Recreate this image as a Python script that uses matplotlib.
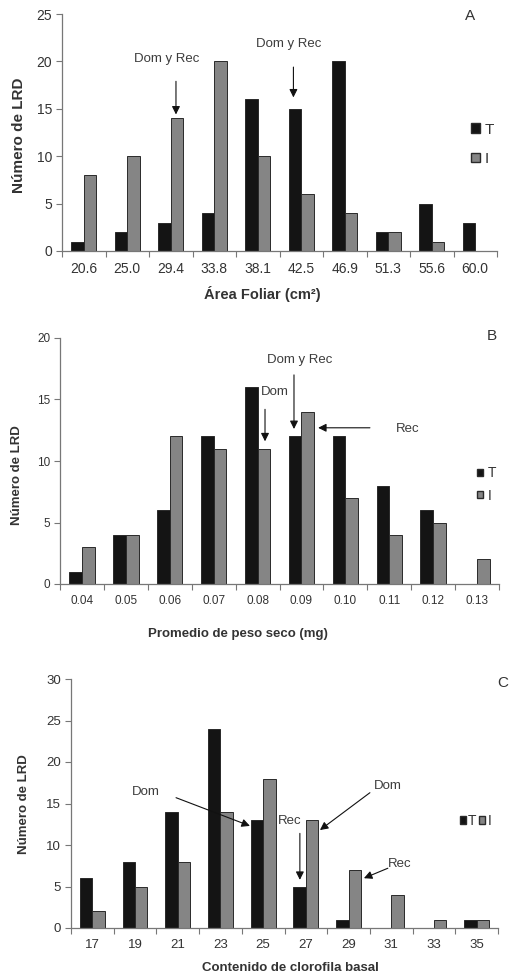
import matplotlib
matplotlib.use("Agg")
import matplotlib.pyplot as plt
import numpy as np
from matplotlib.patches import Patch

plt.rcParams['font.family'] = ['Liberation Sans', 'DejaVu Sans']

# Panel A - leaf area
area_labels = ['20.6', '25.0', '29.4', '33.8', '38.1', '42.5', '46.9', '51.3', '55.6', '60.0']
area_T = [1, 2, 3, 4, 16, 15, 20, 2, 5, 3]
area_I = [8, 10, 14, 20, 10, 6, 4, 2, 1, 0]

# Panel B - mean dry weight
peso_labels = ['0.04', '0.05', '0.06', '0.07', '0.08', '0.09', '0.10', '0.11', '0.12', '0.13']
peso_T = [1, 4, 6, 12, 16, 12, 12, 8, 6, 0]
peso_I = [3, 4, 12, 11, 11, 14, 7, 4, 5, 2]

# Panel C - basal chlorophyll
clor_labels = ['17', '19', '21', '23', '25', '27', '29', '31', '33', '35']
clor_T = [6, 8, 14, 24, 13, 5, 1, 0, 0, 1]
clor_I = [2, 5, 8, 14, 18, 13, 7, 4, 1, 1]

BLACK = '#141414'
GRAY = '#858585'
EDGE = '#2a2a2a'
TXT = '#333333'
SPINE = '#777777'

W, H = 510, 975
fig = plt.figure(figsize=(W / 100, H / 100), dpi=100)


def px_axes(left, right, top, bottom):
    return fig.add_axes([left / W, 1 - bottom / H, (right - left) / W, (bottom - top) / H])


def draw_panel(ax, labels, t, i, ymax, ystep, tick_fs):
    x = np.arange(len(labels))
    w = 0.29
    ax.bar(x - w / 2, t, w, color=BLACK, edgecolor=EDGE, linewidth=0.7)
    ax.bar(x + w / 2, i, w, color=GRAY, edgecolor=EDGE, linewidth=0.7)
    ax.set_xlim(-0.5, len(labels) - 0.5)
    ax.set_ylim(0, ymax)
    ax.set_yticks(np.arange(0, ymax + 1, ystep))
    ax.set_xticks(x)
    ax.set_xticklabels(labels)
    ax.set_xticks(np.arange(-0.5, len(labels), 1.0), minor=True)
    ax.tick_params(axis='x', which='major', length=0, pad=8, labelsize=tick_fs, labelcolor=TXT)
    ax.tick_params(axis='x', which='minor', length=4, width=0.8, color=SPINE, direction='out')
    ax.tick_params(axis='y', length=4, width=0.8, color=SPINE, direction='out', pad=3,
                   labelsize=tick_fs, labelcolor=TXT)
    for s in ['top', 'right']:
        ax.spines[s].set_visible(False)
    for s in ['left', 'bottom']:
        ax.spines[s].set_color(SPINE)
        ax.spines[s].set_linewidth(0.9)


def arrow(ax, text, txy, start, end, fs):
    ax.text(txy[0], txy[1], text, ha='center', va='center', fontsize=fs, color='#3c3c3c')
    ax.annotate('', xy=end, xytext=start,
                arrowprops=dict(arrowstyle='-|>', color='#111111', lw=0.8,
                                mutation_scale=12, shrinkA=0, shrinkB=0))


handles = [Patch(facecolor=BLACK, edgecolor=EDGE), Patch(facecolor=GRAY, edgecolor=EDGE)]

# ---- A ----
axA = px_axes(62, 497, 14, 251)
draw_panel(axA, area_labels, area_T, area_I, 25, 5, 10)
arrow(axA, 'Dom y Rec', (1.91, 20.25), (2.12, 17.9), (2.12, 14.4), 9.5)
arrow(axA, 'Dom y Rec', (4.70, 21.8), (4.82, 19.4), (4.82, 16.2), 9.5)
axA.legend(handles, ['T', 'I'], loc='center left', bbox_to_anchor=(0.94, 0.45),
           frameon=False, fontsize=11, handlelength=0.6, handleheight=0.6,
           handletextpad=0.3, labelspacing=1.0, borderpad=0, borderaxespad=0,
           labelcolor=TXT)
fig.text(470 / W, 1 - 16 / H, 'A', ha='center', va='center', fontsize=11, color=TXT)
fig.text(262 / W, 1 - 294 / H, 'Área Foliar (cm²)', ha='center', va='center',
         fontsize=10.5, fontweight='bold', color=TXT)
fig.text(19 / W, 1 - 135 / H, 'Número de LRD', ha='center', va='center', rotation=90,
         fontsize=11, fontweight='bold', color=TXT)

# ---- B ----
axB = px_axes(60, 499, 338, 584)
draw_panel(axB, peso_labels, peso_T, peso_I, 20, 5, 8.5)
arrow(axB, 'Dom y Rec', (4.97, 18.2), (4.83, 17.0), (4.83, 12.6), 9.5)
arrow(axB, 'Dom', (4.40, 15.6), (4.17, 14.2), (4.17, 11.6), 9.5)
arrow(axB, 'Rec', (7.43, 12.6), (6.56, 12.7), (5.38, 12.7), 9.5)
axB.legend(handles, ['T', 'I'], loc='center left', bbox_to_anchor=(0.95, 0.405),
           frameon=False, fontsize=10, handlelength=0.45, handleheight=0.45,
           handletextpad=0.3, labelspacing=0.6, borderpad=0, borderaxespad=0,
           labelcolor=TXT)
fig.text(492 / W, 1 - 336 / H, 'B', ha='center', va='center', fontsize=11, color=TXT)
fig.text(238 / W, 1 - 634 / H, 'Promedio de peso seco (mg)', ha='center', va='center',
         fontsize=9.5, fontweight='bold', color=TXT)
fig.text(17 / W, 1 - 475 / H, 'Número de LRD', ha='center', va='center', rotation=90,
         fontsize=9.5, fontweight='bold', color=TXT)

# ---- C ----
axC = px_axes(71, 498, 679, 928)
draw_panel(axC, clor_labels, clor_T, clor_I, 30, 5, 9.5)
arrow(axC, 'Dom', (1.26, 16.4), (1.96, 15.7), (3.69, 12.3), 9.5)
arrow(axC, 'Dom', (6.92, 17.1), (6.50, 16.3), (5.33, 11.8), 9.5)
arrow(axC, 'Rec', (4.63, 12.9), (4.86, 11.4), (4.86, 5.8), 9.5)
arrow(axC, 'Rec', (7.20, 7.7), (6.92, 7.2), (6.36, 6.0), 9.5)
axC.legend(handles, ['T', 'I'], loc='center left', bbox_to_anchor=(0.91, 0.43),
           frameon=False, fontsize=10, ncol=2, handlelength=0.45, handleheight=0.45,
           handletextpad=0.15, columnspacing=0.2, borderpad=0, borderaxespad=0,
           labelcolor=TXT)
fig.text(503 / W, 1 - 683 / H, 'C', ha='center', va='center', fontsize=11, color=TXT)
fig.text(290 / W, 1 - 968 / H, 'Contenido de clorofila basal', ha='center', va='center',
         fontsize=9.5, fontweight='bold', color=TXT)
fig.text(24 / W, 1 - 804 / H, 'Número de LRD', ha='center', va='center', rotation=90,
         fontsize=9.5, fontweight='bold', color=TXT)

fig.savefig('out.png', dpi=100)
